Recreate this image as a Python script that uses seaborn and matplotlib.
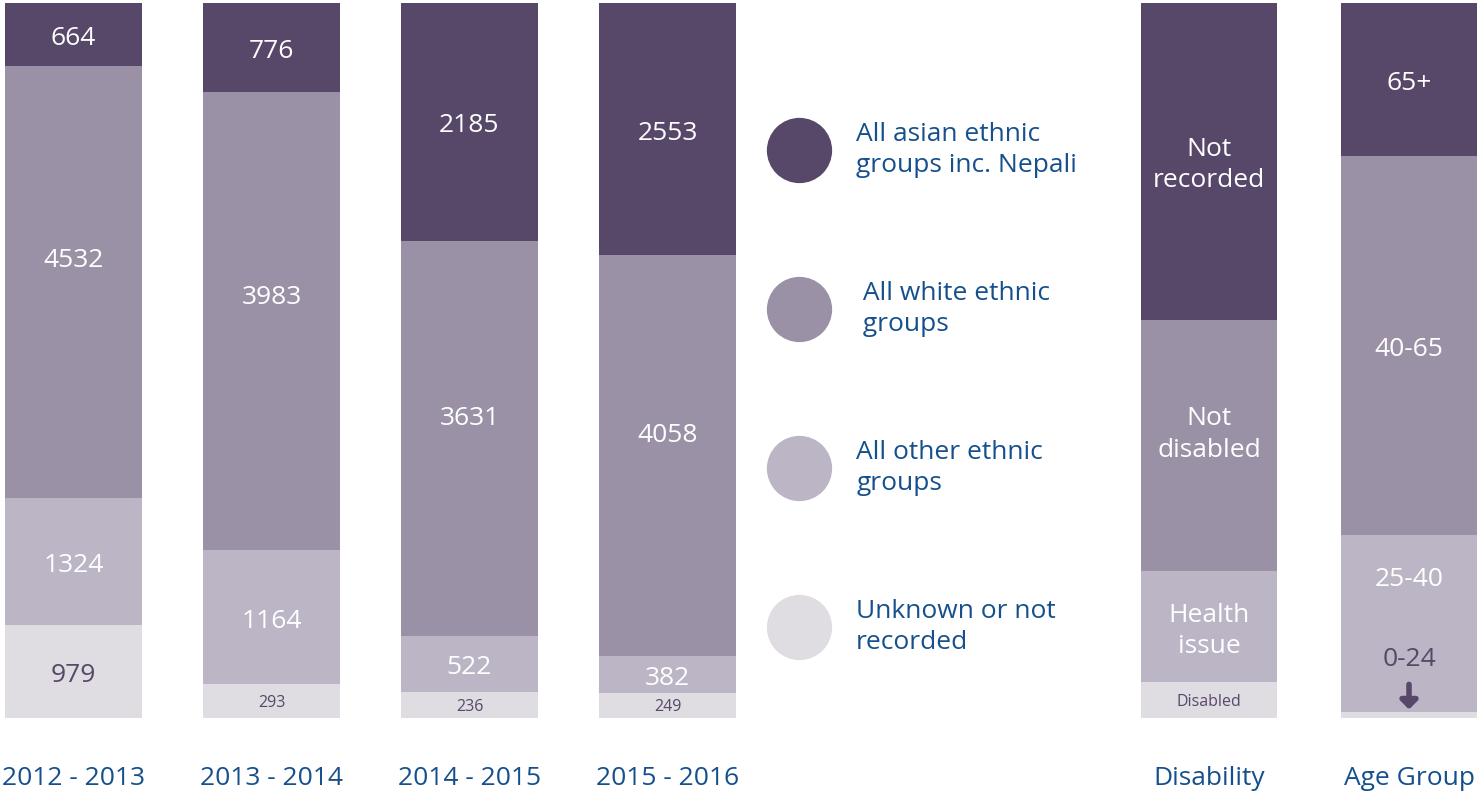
import numpy as np
import pandas as pd
import seaborn as sns
import matplotlib
matplotlib.use("Agg")
import matplotlib.pyplot as plt
import matplotlib.transforms as mtransforms
from matplotlib.lines import Line2D

# ---------------- data ----------------
years = ["2012 - 2013", "2013 - 2014", "2014 - 2015", "2015 - 2016"]
asian = [664, 776, 2185, 2553]
white = [4532, 3983, 3631, 4058]
other = [1324, 1164, 522, 382]
unknown = [979, 293, 236, 249]

legend_labels = ["All asian ethnic\ngroups inc. Nepali",
                 " All white ethnic\n groups",
                 "All other ethnic\ngroups",
                 "Unknown or not\nrecorded"]

disability_name = "Disability"
disability_labels = ["Not\nrecorded", "Not\ndisabled", "Health\nissue", "Disabled"]
disability_pct = [44.3, 35.2, 15.5, 5.0]

age_name = "Age Group"
age_labels = ["65+", "40-65", "25-40", "0-24"]
age_pct = [21.4, 53.0, 24.8, 0.8]

# ---------------- styles / layout ----------------
colors = ["#574869", "#9b91a6", "#bcb5c5", "#dfdce2"]
text_dark = "#574869"
text_blue = "#16508c"
positions = [0, 1, 2, 3, 5.735, 6.745]
bar_width = 0.687

sns.set_style("white")
plt.rcParams["font.family"] = ["Open Sans", "DejaVu Sans"]

# build tidy frame
bars = []
for i, yr in enumerate(years):
    vals = [asian[i], white[i], other[i], unknown[i]]
    bars.append((yr, vals, [str(v) for v in vals]))
bars.append((disability_name, disability_pct, disability_labels))
bars.append((age_name, age_pct, age_labels))

rows = []
for b, (name, vals, labs) in enumerate(bars):
    tot = float(sum(vals))
    shares = [100.0 * v / tot for v in vals]
    for k in range(4):
        bottom = sum(shares[k + 1:])
        rows.append(dict(bar=name, idx=b, pos=positions[b], layer=k,
                         share=shares[k], bottom=bottom, top=bottom + shares[k],
                         label=labs[k]))
df = pd.DataFrame(rows)

fig = plt.figure(figsize=(14.83, 7.92), dpi=100)
ax = fig.add_axes([0, 74 / 792, 1, 715 / 792])

for k in range(4):
    sub = df[df.layer == k]
    sns.barplot(data=sub, x="pos", y="top", native_scale=True, orient="x",
                width=bar_width, color=colors[k], saturation=1, errorbar=None,
                linewidth=0, ax=ax)

ax.set_xlim(-73.5 / 198, (1483 - 73.5) / 198)
ax.set_ylim(0, 100)

tr = mtransforms.offset_copy(ax.transData, fig=fig, y=-4, units="dots")
tr_small = mtransforms.offset_copy(ax.transData, fig=fig, y=-1.5, units="dots")

# segment labels
for _, r in df.iterrows():
    k = r.layer
    is_age = r.bar == age_name
    col = "white" if k < 3 else text_dark
    small = (k == 3 and r.share < 8 and not is_age)
    fs = 11.5 if small else 19
    frac = 0.5
    if k == 1 and not is_age:
        frac = 0.56
    if is_age and k == 2:
        frac = 0.77
    if is_age and k == 3:
        seg2 = df[(df.bar == age_name) & (df.layer == 2)].iloc[0]
        ylab = seg2.bottom + 0.32 * seg2.share
        ax.text(r.pos, ylab, r.label, ha="center", va="center", color=text_dark,
                fontsize=19, transform=tr)
        ax.annotate("", xy=(r.pos, r.top + 0.4), xytext=(r.pos, r.top + 3.9),
                    arrowprops=dict(arrowstyle="-|>,head_width=0.5,head_length=0.5",
                                    lw=4, color=text_dark, shrinkA=0, shrinkB=0))
        continue
    ax.text(r.pos, r.bottom + frac * r.share, r.label, ha="center", va="center",
            color=col, fontsize=fs, linespacing=1.32,
            transform=tr_small if small else tr)

ax.set_xticks(positions, labels=[b[0] for b in bars])
ax.tick_params(axis="x", length=0, pad=34.5, labelsize=19, labelcolor=text_blue)
ax.set_yticks([])
ax.set_xlabel("")
ax.set_ylabel("")
sns.despine(ax=ax, left=True, bottom=True)

handles = [Line2D([], [], marker="o", linestyle="", markersize=47,
                  markerfacecolor=c, markeredgewidth=0) for c in colors]
leg = ax.legend(handles, legend_labels, loc="upper left",
                bbox_to_anchor=(766.5 / 1483, 1 - 122 / 792),
                bbox_transform=fig.transFigure, frameon=False, fontsize=19,
                labelcolor=text_blue, handlelength=2.45, handletextpad=0.95,
                labelspacing=3.9, borderpad=0, borderaxespad=0)
for t in leg.get_texts():
    t.set_linespacing(1.32)

fig.savefig("out.png", dpi=100)
